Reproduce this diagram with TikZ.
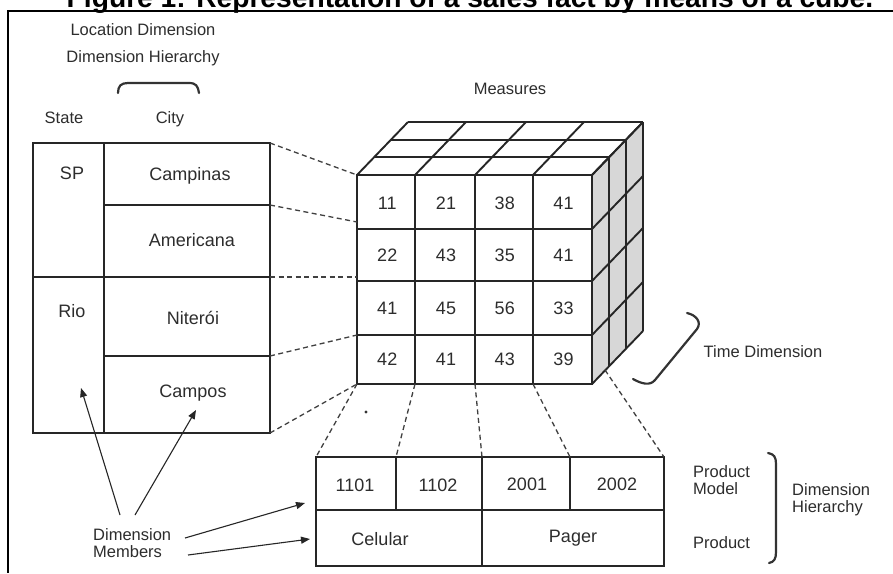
\documentclass[tikz,border=0pt]{standalone}
\usepackage{fontspec}
\setmainfont{Liberation Sans}
\usetikzlibrary{arrows.meta}
\definecolor{ink}{RGB}{45,45,45}
\definecolor{sidegray}{RGB}{215,215,215}
\begin{document}
\begin{tikzpicture}[x=1pt,y=-1pt,
  frameline/.style={line width=2.6pt,black},
  gridline/.style={line width=1.9pt,black!85},
  dashline/.style={dash pattern=on 5pt off 3.5pt,line width=1.3pt,black!75},
  bracket/.style={line width=2.2pt,black!80,line cap=round},
  lbl/.style={font=\fontsize{16.5}{20}\selectfont,text=ink,inner sep=0pt},
  cell/.style={font=\fontsize{18}{21}\selectfont,text=ink,inner sep=0pt},
  arr/.style={-{Triangle[length=9pt,width=7pt]},line width=1.1pt,black!85}
]
\useasboundingbox (0,0) rectangle (893,573);
\fill[white] (0,0) rectangle (893,573);
% title (clipped at the top)
\begin{scope}
\clip (0,0) rectangle (893,573);
\node[anchor=base,inner sep=0pt,font=\fontsize{28.2}{34}\bfseries\selectfont] (title) at (470,7)
  {Figure 1: Representation of a sales fact by means of a cube.};
\end{scope}
% frame
\draw[frameline] (893,11) -- (8,11) -- (8,573);

% location labels
\node[lbl] (locdim) at (143,30) {Location Dimension};
\node[lbl] (lochier) at (143,58) {Dimension Hierarchy};
\draw[bracket] (118,93) .. controls (118,86) and (121,83) .. (128,83) -- (189,83) .. controls (196,83) and (198,86) .. (199,93);
\node[lbl] (state) at (64,118) {State};
\node[lbl] (city) at (170,119) {City};

% location table
\draw[gridline] (33,143) rectangle (270,433);
\draw[gridline] (104,143) -- (104,433);
\draw[gridline] (104,205) -- (270,205);
\draw[gridline] (33,277) -- (270,277);
\draw[gridline] (104,356) -- (270,356);
\node[cell] (sp) at (72,173) {SP};
\node[cell] (campinas) at (190,176) {Campinas};
\node[cell] (americana) at (192,240) {Americana};
\node[cell] (rio) at (72,311) {Rio};
\node[cell] (niteroi) at (193,318) {Niterói};
\node[cell] (campos) at (193,393) {Campos};
\coordinate (lt0) at (270,143);
\coordinate (lt1) at (270,205);
\coordinate (lt2) at (270,277);
\coordinate (lt3) at (270,356);
\coordinate (lt4) at (270,433);

% measures
\node[lbl] (measures) at (510,89) {Measures};

% cube
\fill[white] (357,175) -- (592,175) -- (643,122) -- (408,122) -- cycle;
\fill[sidegray] (592,175) -- (643,122) -- (643,331) -- (592,384) -- cycle;
\foreach \k in {1,2,3} {
  \draw[gridline] ({357+17*\k},{175-17.667*\k}) -- ({592+17*\k},{175-17.667*\k});
  \draw[gridline] ({592+17*\k},{175-17.667*\k}) -- ++(0,209);
}
\foreach \x in {357,415,475,533,592} \draw[gridline] (\x,175) -- ++(51,-53);
\foreach \y in {175,229,281,335,384} \draw[gridline] (592,\y) -- ++(51,-53);
\fill[white] (357,175) rectangle (592,384);
\foreach \x in {415,475,533} \draw[gridline] (\x,175) -- (\x,384);
\foreach \y in {229,281,335} \draw[gridline] (357,\y) -- (592,\y);
\draw[gridline] (357,175) rectangle (592,384);
\foreach \v [count=\i] in {11,21,38,41} \node[cell] (ca\i) at ({328.5+58.75*\i},203) {\v};
\foreach \v [count=\i] in {22,43,35,41} \node[cell] (cb\i) at ({328.5+58.75*\i},255) {\v};
\foreach \v [count=\i] in {41,45,56,33} \node[cell] (cc\i) at ({328.5+58.75*\i},308) {\v};
\foreach \v [count=\i] in {42,41,43,39} \node[cell] (cd\i) at ({328.5+58.75*\i},359) {\v};
\coordinate (cl0) at (357,175);
\coordinate (cl1) at (357,222);
\coordinate (cl2) at (357,277);
\coordinate (cl3) at (357,335);
\coordinate (cl4) at (357,384);
\coordinate (cb1) at (415,384);
\coordinate (cb2) at (475,384);
\coordinate (cb3) at (533,384);
\coordinate (cb4) at (605,370);

% dashed connectors left
\draw[dashline] (lt0) -- (cl0);
\draw[dashline] (lt1) -- (cl1);
\draw[dashline] (lt2) -- (cl2);
\draw[dashline] (lt3) -- (cl3);
\draw[dashline] (lt4) -- (cl4);

% time dimension
\draw[bracket] (687,313) .. controls (696,315) and (702,322) .. (697,329) -- (655,380) .. controls (650,386) and (642,384) .. (633,379);
\node[lbl] (timedim) at (763,352) {Time Dimension};

% product table
\draw[gridline] (316,457) rectangle (664,566);
\draw[gridline] (316,510) -- (664,510);
\draw[gridline] (396,457) -- (396,510);
\draw[gridline] (482,457) -- (482,566);
\draw[gridline] (570,457) -- (570,510);
\node[cell] (p1101) at (355,485) {1101};
\node[cell] (p1102) at (438,485) {1102};
\node[cell] (p2001) at (527,484) {2001};
\node[cell] (p2002) at (617,484) {2002};
\node[cell] (celular) at (380,539) {Celular};
\node[cell] (pager) at (573,538) {Pager};
\coordinate (pt0) at (316,457);
\coordinate (pt1) at (396,457);
\coordinate (pt2) at (482,457);
\coordinate (pt3) at (570,457);
\coordinate (pt4) at (664,457);

% dashed connectors bottom
\draw[dashline] (cl4) -- (pt0);
\draw[dashline] (cb1) -- (pt1);
\draw[dashline] (cb2) -- (pt2);
\draw[dashline] (cb3) -- (pt3);
\draw[dashline] (cb4) -- (pt4);
\fill[black!80] (366,412) circle (1.6);

% product hierarchy labels
\node[lbl,anchor=west] (pmodel) at (693,482) {\begin{tabular}{@{}l@{}}Product\\[-3pt]Model\end{tabular}};
\node[lbl,anchor=west] (product) at (693,543) {Product};
\draw[bracket] (768,453) .. controls (774,454) and (776,457) .. (776,464) -- (776,552) .. controls (776,559) and (774,562) .. (769,563);
\node[lbl,anchor=west] (prodhier) at (792,500) {\begin{tabular}{@{}l@{}}Dimension\\[-3pt]Hierarchy\end{tabular}};

% dimension members
\node[lbl,anchor=west] (members) at (93,545) {\begin{tabular}{@{}l@{}}Dimension\\[-3pt]Members\end{tabular}};
\coordinate (m1) at (120,515);
\coordinate (m2) at (135,515);
\coordinate (m3) at (185,538);
\coordinate (m4) at (188,555);
\coordinate (t1) at (81,388);
\coordinate (t2) at (196,410);
\coordinate (t3) at (305,503);
\coordinate (t4) at (310,539);
\draw[arr] (m1) -- (t1);
\draw[arr] (m2) -- (t2);
\draw[arr] (m3) -- (t3);
\draw[arr] (m4) -- (t4);
\end{tikzpicture}
\end{document}
